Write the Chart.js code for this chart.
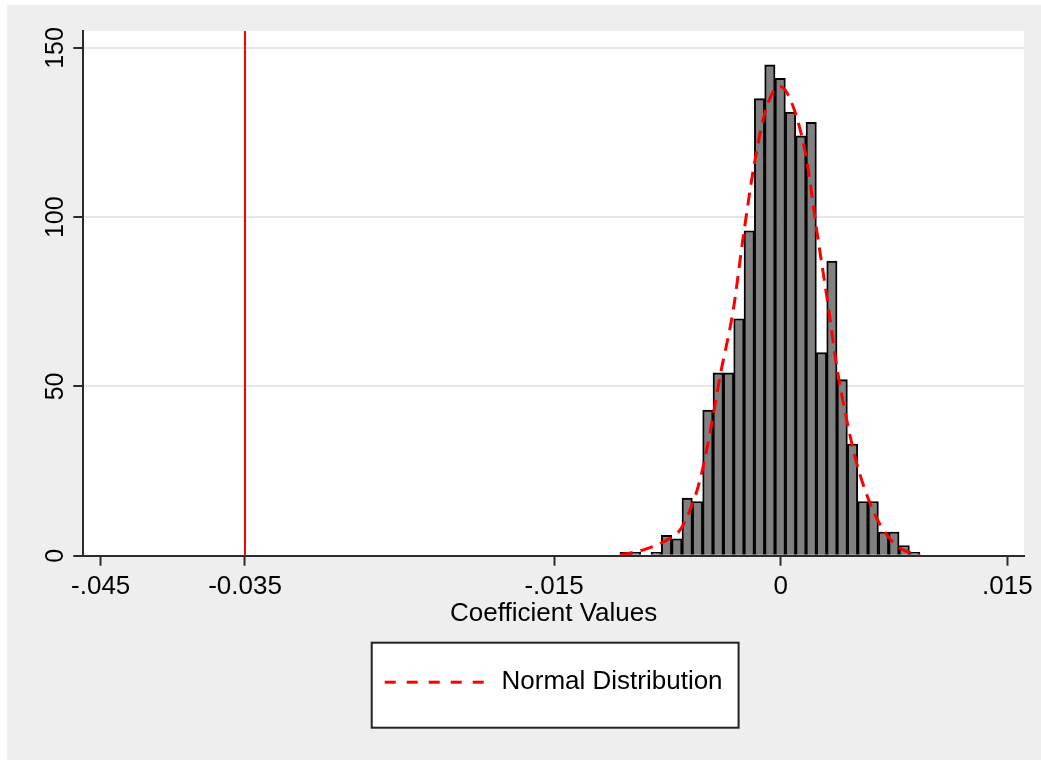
<!DOCTYPE html>
<html>
<head>
<meta charset="utf-8">
<script src="https://cdn.jsdelivr.net/npm/chart.js@4.4.0/dist/chart.umd.min.js"></script>
<style>
  html, body { margin: 0; padding: 0; background: #fff; }
  canvas { display: block; }
</style>
</head>
<body>
<canvas id="hist" width="1041" height="760"></canvas>
<script>
// histogram bins of the coefficient estimates
const binStart = -0.010635;
const binWidth = 0.000684;
const counts = [1, 1, 0, 1, 6, 5, 17, 16, 43, 54, 54, 70, 96, 135, 145, 141, 131, 124, 128, 60, 87, 52, 33, 16, 16, 7, 7, 3, 1];

// normal density overlay (frequency scale)
const normalX = [-0.01064, -0.00909, -0.00754, -0.00666, -0.00600, -0.00534, -0.00468, -0.00402, -0.00314, -0.00248, -0.00170, -0.00093, -0.00005, 0.00083, 0.00172, 0.00238, 0.00315, 0.00371, 0.00437, 0.00503, 0.00591, 0.00679, 0.00790, 0.00922];
const normalY = [0.2, 1.7, 4.6, 7.6, 13.5, 22.4, 36.2, 52.9, 72.6, 94.2, 116.9, 132.6, 138.6, 132.6, 116.9, 96.2, 73.6, 55.8, 40.1, 27.3, 15.5, 7.6, 2.2, 0.2];

// actual estimate, marked with a vertical line
const refValue = -0.03545;

const xTicks = [-0.045, refValue, -0.015, 0, 0.015];
const xTickLabels = ["-.045", "-0.035", "-.015", "0", ".015"];
const yTicks = [0, 50, 100, 150];
const yTickLabels = ["0", "50", "100", "150"];

const xMin = -0.04615, xMax = 0.0161;
const yMax = 155;

Chart.defaults.font.family = "'Liberation Sans', Arial, sans-serif";
Chart.defaults.color = "#000";

const axisColor = "#2b2b2b";
const fontSize = 26;

// gray page, white plot region and the framed legend
const frame = {
  id: "frame",
  beforeDraw(chart) {
    const ctx = chart.ctx;
    const a = chart.chartArea;
    ctx.save();
    ctx.fillStyle = "#fff";
    ctx.fillRect(0, 0, chart.width, chart.height);
    ctx.fillStyle = "#eeeeee";
    ctx.fillRect(7, 5, chart.width - 7, chart.height - 5);
    ctx.fillStyle = "#fff";
    ctx.fillRect(a.left, a.top, a.right - a.left, a.bottom - a.top);
    const hb = chart.legend && chart.legend.legendHitBoxes[0];
    if (hb) {
      const cy = hb.top + hb.height / 2;
      const x0 = hb.left - 13, x1 = hb.left + hb.width + 16;
      const y0 = cy - 39.5, y1 = cy + 45.5;
      ctx.fillStyle = "#fff";
      ctx.fillRect(x0, y0, x1 - x0, y1 - y0);
      ctx.strokeStyle = "#222";
      ctx.lineWidth = 2;
      ctx.strokeRect(x0, y0, x1 - x0, y1 - y0);
    }
    ctx.restore();
  }
};

new Chart(document.getElementById("hist"), {
  type: "bar",
  data: {
    datasets: [
      {
        type: "line",
        label: "Normal Distribution",
        data: normalX.map((x, i) => ({ x: x, y: normalY[i] })),
        borderColor: "#ff0000",
        borderWidth: 3,
        borderDash: [13, 8],
        pointRadius: 0,
        cubicInterpolationMode: "monotone",
        fill: false,
        order: 0
      },
      {
        type: "line",
        label: "Estimate",
        data: [{ x: refValue, y: 0 }, { x: refValue, y: yMax }],
        borderColor: "#ff0000",
        borderWidth: 2,
        pointRadius: 0,
        fill: false,
        order: 1
      },
      {
        type: "bar",
        label: "Frequency",
        data: counts.map((c, i) => ({ x: binStart + binWidth * (i + 0.5), y: c })),
        backgroundColor: "#808080",
        borderColor: "#000",
        borderWidth: 1.9,
        barPercentage: 1,
        categoryPercentage: 1,
        order: 2
      }
    ]
  },
  options: {
    responsive: false,
    animation: false,
    events: [],
    layout: { padding: { top: 31, right: 17, bottom: 54.8, left: 0 } },
    scales: {
      x: {
        type: "linear",
        min: xMin,
        max: xMax,
        offset: false,
        afterBuildTicks: (s) => { s.ticks = xTicks.map((v) => ({ value: v })); },
        afterFit: (s) => { s.height = 103.5; },
        ticks: {
          autoSkip: false,
          minRotation: 0,
          maxRotation: 0,
          padding: 6,
          font: { size: fontSize },
          callback: (v, i) => xTickLabels[i]
        },
        grid: { offset: false, drawOnChartArea: false, tickLength: 10, tickWidth: 2, tickColor: axisColor, color: axisColor },
        border: { color: axisColor, width: 2 },
        title: {
          display: true,
          text: "Coefficient Values",
          font: { size: fontSize },
          padding: { top: 0, bottom: 30 }
        }
      },
      y: {
        min: 0,
        max: yMax,
        afterBuildTicks: (s) => { s.ticks = yTicks.map((v) => ({ value: v })); },
        afterFit: (s) => { s.width = 83.3; },
        ticks: {
          minRotation: 90,
          maxRotation: 90,
          crossAlign: "center",
          padding: -4,
          font: { size: 25 },
          callback: (v, i) => yTickLabels[i]
        },
        grid: { color: "#e6e6e6", lineWidth: 2, tickLength: 10, tickWidth: 2, tickColor: axisColor },
        border: { color: axisColor, width: 2 }
      }
    },
    plugins: {
      tooltip: { enabled: false },
      legend: {
        position: "bottom",
        fullSize: false,
        labels: {
          usePointStyle: true,
          pointStyle: "line",
          pointStyleWidth: 103.8,
          padding: 10,
          font: { size: fontSize },
          filter: (item) => item.datasetIndex === 0,
          generateLabels: (chart) => {
            const items = Chart.defaults.plugins.legend.labels.generateLabels(chart);
            items.forEach((it) => { it.lineDash = [11, 11]; it.lineWidth = 3; });
            return items;
          }
        }
      }
    }
  },
  plugins: [frame]
});
</script>
</body>
</html>
